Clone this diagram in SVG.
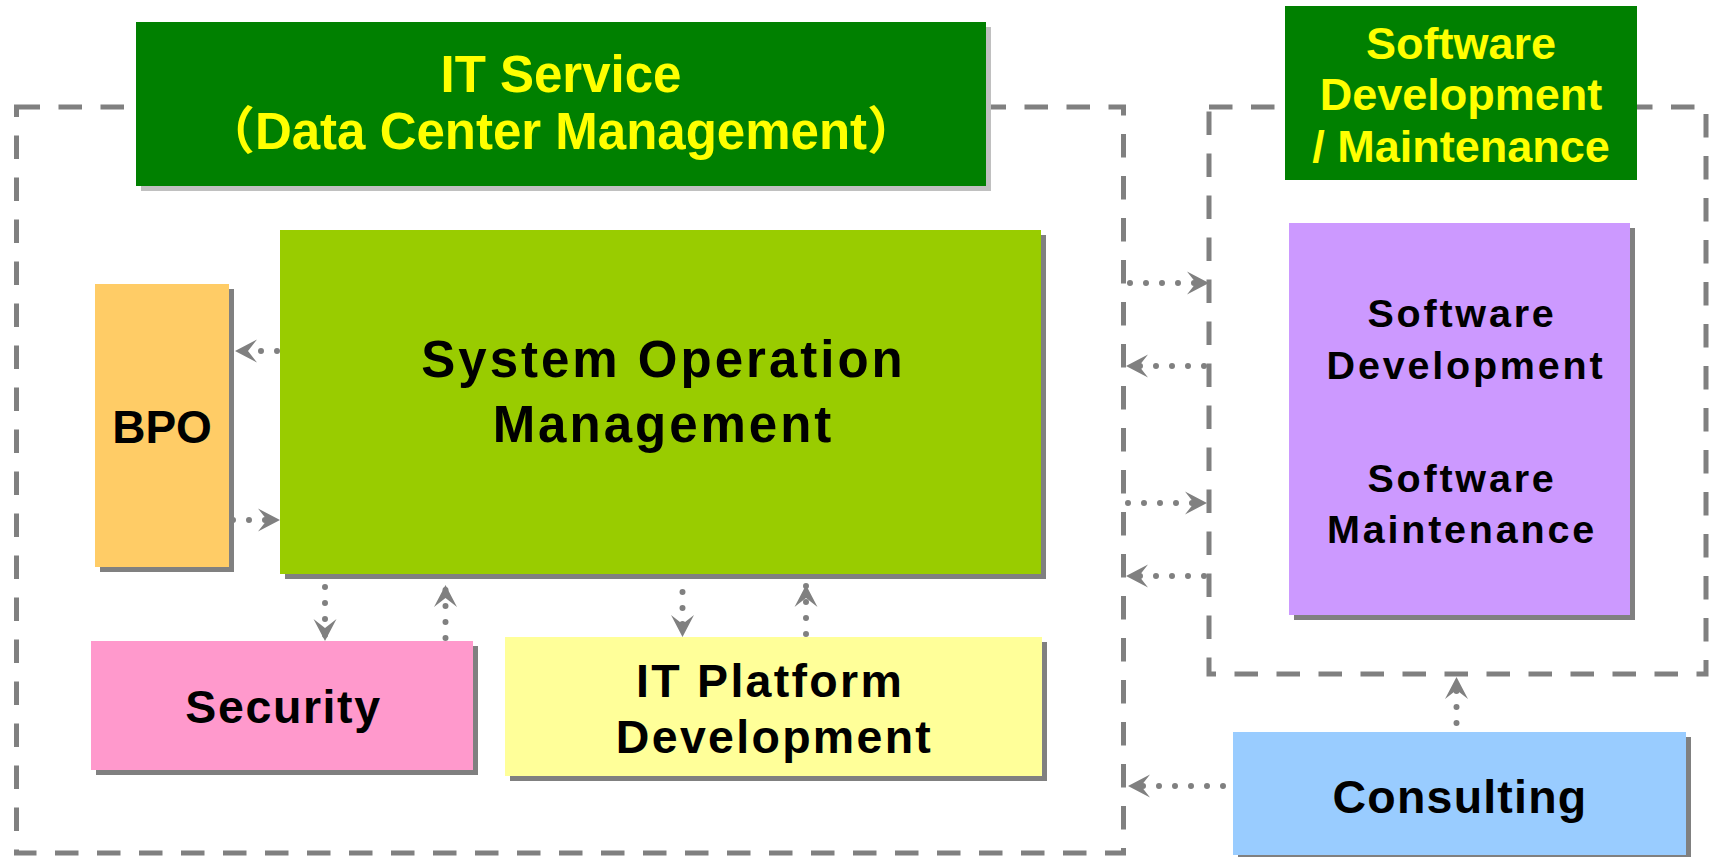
<svg xmlns="http://www.w3.org/2000/svg" width="1711" height="857" viewBox="0 0 1711 857">
<defs>
<style>
.sh{fill:#808080}
.shl{fill:#c0c0c0}
.ttl{fill:#008000}
.yt{font-family:'Liberation Sans','Noto Sans CJK JP',Arial,sans-serif;font-weight:bold;fill:#ffff00;text-anchor:middle}
.bt{font-family:'Liberation Sans',Arial,sans-serif;font-weight:bold;fill:#000000;text-anchor:middle}
.dash{fill:none;stroke:#808080;stroke-width:5;stroke-dasharray:23.5 18.5}
.dot{fill:none;stroke:#808080;stroke-width:6;stroke-linecap:round;stroke-dasharray:0 16;marker-end:url(#ah)}
</style>
<marker id="ah" markerUnits="userSpaceOnUse" markerWidth="28" markerHeight="28" viewBox="-25 -14 28 28" refX="0" refY="0" orient="auto">
<path d="M0,0 L-22,-11.5 L-13,0 L-22,11.5 Z" fill="#808080" stroke="none"/>
</marker>
</defs>
<rect x="0" y="0" width="1711" height="857" fill="#ffffff"/>

<g id="frames">
<rect class="dash" x="16.5" y="107" width="1107" height="746"/>
<rect class="dash" x="1209" y="107" width="497" height="567"/>
</g>

<g id="it-service">
<rect class="shl" x="141" y="27" width="850" height="164"/>
<rect class="ttl" x="136" y="22" width="850" height="164"/>
<text class="yt" x="561" y="92" font-size="51">IT Service</text>
<text class="yt" x="561" y="149" font-size="51">（Data Center Management）</text>
</g>

<g id="sw-title">
<rect class="ttl" x="1285" y="6" width="352" height="174"/>
<text class="yt" x="1461" y="59" font-size="45">Software</text>
<text class="yt" x="1461" y="110" font-size="45">Development</text>
<text class="yt" x="1461" y="162" font-size="45">/ Maintenance</text>
</g>

<g id="som">
<rect class="sh" x="285" y="235" width="761" height="344"/>
<rect x="280" y="230" width="761" height="344" fill="#99cc00"/>
<text class="bt" x="663.5" y="377" font-size="51" letter-spacing="3">System Operation</text>
<text class="bt" x="663.5" y="442" font-size="51" letter-spacing="3">Management</text>
</g>

<g id="bpo">
<rect class="sh" x="100" y="289" width="134" height="283"/>
<rect x="95" y="284" width="134" height="283" fill="#ffcc66"/>
<text class="bt" x="162" y="443" font-size="46">BPO</text>
</g>

<g id="security">
<rect class="sh" x="96" y="646" width="382" height="129"/>
<rect x="91" y="641" width="382" height="129" fill="#ff99cc"/>
<text class="bt" x="283.5" y="723" font-size="46.5" letter-spacing="1.6">Security</text>
</g>

<g id="it-platform">
<rect class="sh" x="510" y="642" width="537" height="139"/>
<rect x="505" y="637" width="537" height="139" fill="#ffff99"/>
<text class="bt" x="770" y="697" font-size="46.5" letter-spacing="2.3">IT Platform</text>
<text class="bt" x="774.5" y="753" font-size="46.5" letter-spacing="2.3">Development</text>
</g>

<g id="sw-dev-maint">
<rect class="sh" x="1294" y="228" width="341" height="392"/>
<rect x="1289" y="223" width="341" height="392" fill="#cc99ff"/>
<text class="bt" x="1462" y="327" font-size="39.5" letter-spacing="2.8">Software</text>
<text class="bt" x="1466" y="379" font-size="39.5" letter-spacing="2.8">Development</text>
<text class="bt" x="1462" y="492" font-size="39.5" letter-spacing="2.8">Software</text>
<text class="bt" x="1462" y="543" font-size="39.5" letter-spacing="2.8">Maintenance</text>
</g>

<g id="consulting">
<rect class="sh" x="1238" y="737" width="453" height="123"/>
<rect x="1233" y="732" width="453" height="123" fill="#99ccff"/>
<text class="bt" x="1460" y="813" font-size="46.5" letter-spacing="1.2">Consulting</text>
</g>

<g id="connectors">
<path class="dot" d="M277,351 L235,351"/>
<path class="dot" d="M233,520 L280,520"/>
<path class="dot" d="M325,587 L325,641"/>
<path class="dot" d="M445.5,638 L445.5,585"/>
<path class="dot" d="M682.5,592 L682.5,637"/>
<path class="dot" d="M806,634 L806,585"/>
<path class="dot" d="M1130,283 L1209,283"/>
<path class="dot" d="M1204,366 L1126,366"/>
<path class="dot" d="M1128,503 L1207,503"/>
<path class="dot" d="M1204,576 L1126,576"/>
<path class="dot" d="M1456.5,723 L1456.5,677"/>
<path class="dot" d="M1223,786 L1128,786"/>
</g>
</svg>
